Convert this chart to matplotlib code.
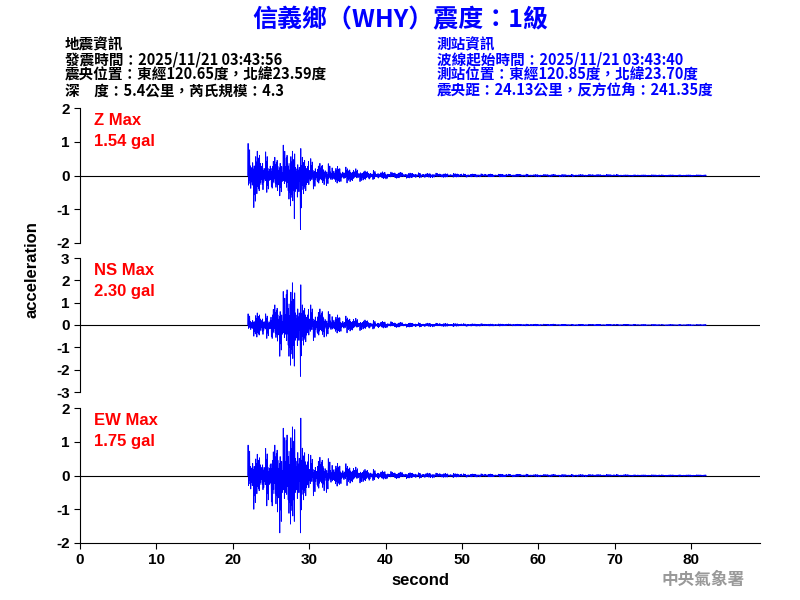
import matplotlib
matplotlib.use("Agg")
import matplotlib.pyplot as plt
import numpy as np

plt.rcParams['font.family'] = ['Noto Sans CJK TC', 'DejaVu Sans']
plt.rcParams['axes.unicode_minus'] = False

start = 22.0
# per-second envelope (upper, lower) from 22 s onwards
z_up = [0.95,0.8,0.7,0.6,0.9,0.8,0.8,0.6,0.5,0.4,0.35,0.3,0.25,0.22,0.2,0.15,0.15,0.12,0.1,0.1,
        0.09,0.08,0.08,0.07,0.07,0.06,0.06,0.06,0.05,0.05,0.05,0.05,0.04,0.04,0.04,0.04,0.04,0.03,0.03,0.03,
        0.03,0.03,0.03,0.03,0.03,0.03,0.03,0.03,0.03,0.02,0.02,0.02,0.02,0.02,0.02,0.02,0.02,0.02,0.02,0.02]
z_lo = [-0.95,-0.6,-0.5,-0.5,-0.6,-1.0,-1.6,-0.6,-0.4,-0.3,-0.3,-0.25,-0.22,-0.2,-0.18,-0.15,-0.12,-0.1,-0.1,-0.09,
        -0.08,-0.08,-0.07,-0.07,-0.06,-0.06,-0.05,-0.05,-0.05,-0.05,-0.04,-0.04,-0.04,-0.04,-0.03,-0.03,-0.03,-0.03,-0.03,-0.03,
        -0.03,-0.03,-0.03,-0.02,-0.02,-0.02,-0.02,-0.02,-0.02,-0.02,-0.02,-0.02,-0.02,-0.02,-0.02,-0.02,-0.02,-0.02,-0.02,-0.02]
ns_up = [0.5,0.6,0.5,1.0,1.5,2.1,1.8,1.0,0.9,0.8,0.6,0.5,0.4,0.35,0.3,0.25,0.2,0.18,0.15,0.12,
         0.12,0.1,0.1,0.09,0.08,0.08,0.07,0.07,0.06,0.06,0.06,0.05,0.05,0.05,0.05,0.04,0.04,0.04,0.04,0.04,
         0.04,0.03,0.03,0.03,0.03,0.03,0.03,0.03,0.03,0.03,0.03,0.02,0.02,0.02,0.02,0.02,0.02,0.02,0.02,0.02]
ns_lo = [-0.5,-0.6,-0.6,-0.8,-1.4,-2.0,-2.3,-1.0,-0.7,-0.6,-0.5,-0.4,-0.35,-0.3,-0.25,-0.2,-0.18,-0.15,-0.12,-0.12,
         -0.1,-0.1,-0.09,-0.08,-0.08,-0.07,-0.07,-0.06,-0.06,-0.06,-0.05,-0.05,-0.05,-0.04,-0.04,-0.04,-0.04,-0.04,-0.03,-0.03,
         -0.03,-0.03,-0.03,-0.03,-0.03,-0.03,-0.03,-0.02,-0.02,-0.02,-0.02,-0.02,-0.02,-0.02,-0.02,-0.02,-0.02,-0.02,-0.02,-0.02]
ew_up = [0.9,0.7,0.8,1.0,1.4,1.6,1.7,0.9,0.6,0.6,0.5,0.4,0.35,0.3,0.25,0.2,0.18,0.15,0.12,0.1,
         0.1,0.09,0.08,0.08,0.07,0.07,0.06,0.06,0.05,0.05,0.05,0.05,0.04,0.04,0.04,0.04,0.04,0.03,0.03,0.03,
         0.03,0.03,0.03,0.03,0.03,0.03,0.03,0.03,0.03,0.03,0.02,0.02,0.02,0.02,0.02,0.02,0.02,0.02,0.02,0.02]
ew_lo = [-1.0,-0.6,-0.9,-1.2,-1.7,-1.6,-1.7,-0.8,-0.6,-0.5,-0.5,-0.35,-0.3,-0.25,-0.22,-0.2,-0.15,-0.12,-0.1,-0.1,
         -0.09,-0.08,-0.08,-0.07,-0.07,-0.06,-0.06,-0.05,-0.05,-0.05,-0.04,-0.04,-0.04,-0.04,-0.04,-0.03,-0.03,-0.03,-0.03,-0.03,
         -0.03,-0.03,-0.03,-0.03,-0.03,-0.02,-0.02,-0.02,-0.02,-0.02,-0.02,-0.02,-0.02,-0.02,-0.02,-0.02,-0.02,-0.02,-0.02,-0.02]

labels = ["Z Max\n1.54 gal", "NS Max\n2.30 gal", "EW Max\n1.75 gal"]
ylims = [2, 3, 2]
# within-second oscillation shape (fraction of envelope)
shape = [1.0, 0.35, 0.6, 0.2, 0.8, 0.45, 0.3, 0.7, 0.15, 0.5, 0.25, 0.9,
         0.4, 0.55, 0.2, 0.65, 0.3, 0.75, 0.1, 0.45]

def trace(up, lo):
    n = len(shape)
    xs, ys = [start - 0.05], [0.0]
    for i, (u, l) in enumerate(zip(up, lo)):
        for k in range(n):
            w = shape[(k + 7 * i) % n]
            xs.append(start + i + k / n)
            ys.append(u * w if k % 2 == 0 else l * shape[(k + 3 * i + 5) % n])
    return np.array(xs), np.array(ys)

fig = plt.figure(figsize=(8, 6), dpi=100)
tops = [108, 258, 408]
bots = [243, 392, 543]
TF = 'Liberation Sans'
for j, (up, lo) in enumerate([(z_up, z_lo), (ns_up, ns_lo), (ew_up, ew_lo)]):
    ax = fig.add_axes([80/800, 1 - bots[j]/600, 680/800, (bots[j]-tops[j])/600])
    xs, ys = trace(up, lo)
    ax.axhline(0, color='black', lw=0.8)
    ax.plot(xs, ys, color='blue', lw=0.6)
    ax.set_xlim(0, 89)
    lim = ylims[j]
    ax.set_ylim(-lim, lim)
    ax.set_yticks(range(-lim, lim + 1))
    for s in ['top', 'right']:
        ax.spines[s].set_visible(False)
    if j < 2:
        ax.spines['bottom'].set_visible(False)
        ax.set_xticks([])
    else:
        ax.set_xticks(range(0, 90, 10))
        ax.set_xlabel("second", fontsize=12, fontweight='bold', family=TF)
    ax.tick_params(labelsize=11, length=4)
    for t in ax.get_xticklabels() + ax.get_yticklabels():
        t.set_family(TF)
        t.set_fontweight('bold')
    ax.text(0.02, 0.96, labels[j], transform=ax.transAxes, color='red', fontsize=12,
            fontweight='bold', va='top', family=TF, linespacing=1.5)

fig.text(0.04, 0.55, "acceleration", rotation=90, fontsize=12, fontweight='bold',
         va='center', ha='center', family=TF)

fig.text(0.5, 0.967, "信義鄉（WHY）震度：1級", color='blue', fontsize=18, fontweight='bold',
         ha='center', va='center')
left = ["地震資訊", "發震時間：2025/11/21 03:43:56", "震央位置：東經120.65度，北緯23.59度",
        "深　度：5.4公里，芮氏規模：4.3"]
right = ["測站資訊", "波線起始時間：2025/11/21 03:43:40", "測站位置：東經120.85度，北緯23.70度",
         "震央距：24.13公里，反方位角：241.35度"]
for i, (a, b) in enumerate(zip(left, right)):
    y = 1 - (44 + i * 15.5) / 600
    fig.text(65/800, y, a, fontsize=10.5, fontweight='bold', va='center', color='black')
    fig.text(437/800, y, b, fontsize=10.5, fontweight='bold', va='center', color='blue')
fig.text(745/800, 1 - 580/600, "中央氣象署", fontsize=12, fontweight='bold', color='#999999',
         ha='right', va='center')

fig.savefig("out.png", dpi=100)
